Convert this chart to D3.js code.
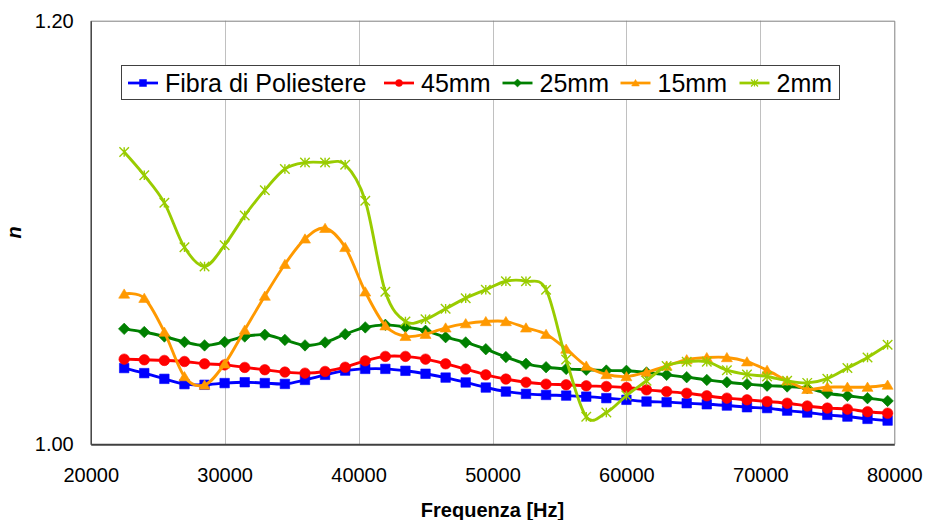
<!DOCTYPE html>
<html><head><meta charset="utf-8">
<script src="https://cdn.jsdelivr.net/npm/d3@7"></script>
<style>body{margin:0;background:#fff;}svg{display:block;font-family:"Liberation Sans",Arial,sans-serif;}</style>
</head><body><svg id="c" width="925" height="520"></svg>
<script>
const freqs = [22500,24000,25500,27000,28500,30000,31500,33000,34500,36000,37500,39000,40500,42000,43500,45000,46500,48000,49500,51000,52500,54000,55500,57000,58500,60000,61500,63000,64500,66000,67500,69000,70500,72000,73500,75000,76500,78000,79500];
const fibra = [1.0360,1.0336,1.0309,1.0284,1.0281,1.0289,1.0293,1.0289,1.0285,1.0304,1.0328,1.0348,1.0356,1.0356,1.0347,1.0333,1.0315,1.0292,1.0268,1.0249,1.0238,1.0233,1.0230,1.0225,1.0218,1.0210,1.0202,1.0199,1.0194,1.0189,1.0183,1.0175,1.0171,1.0159,1.0150,1.0139,1.0131,1.0120,1.0112];
const mm45 = [1.0402,1.0399,1.0396,1.0391,1.0380,1.0375,1.0363,1.0352,1.0341,1.0336,1.0344,1.0364,1.0394,1.0415,1.0415,1.0402,1.0380,1.0355,1.0328,1.0308,1.0293,1.0284,1.0281,1.0276,1.0273,1.0268,1.0257,1.0249,1.0241,1.0229,1.0218,1.0210,1.0202,1.0194,1.0181,1.0171,1.0166,1.0154,1.0147];
const mm25 = [1.0545,1.0530,1.0509,1.0483,1.0467,1.0483,1.0509,1.0517,1.0493,1.0467,1.0481,1.0520,1.0552,1.0564,1.0554,1.0536,1.0506,1.0481,1.0449,1.0412,1.0380,1.0364,1.0356,1.0352,1.0348,1.0347,1.0339,1.0328,1.0317,1.0304,1.0293,1.0284,1.0277,1.0273,1.0265,1.0241,1.0229,1.0218,1.0205];
const mm15 = [1.071,1.069,1.053,1.032,1.028,1.038,1.054,1.070,1.085,1.097,1.102,1.093,1.072,1.056,1.051,1.052,1.055,1.057,1.058,1.058,1.055,1.052,1.045,1.037,1.033,1.032,1.034,1.037,1.040,1.041,1.041,1.039,1.035,1.030,1.026,1.027,1.027,1.027,1.028];
const mm2 = [1.138,1.127,1.114,1.093,1.084,1.094,1.108,1.120,1.130,1.133,1.133,1.132,1.115,1.072,1.058,1.059,1.064,1.069,1.073,1.077,1.077,1.073,1.040,1.013,1.015,1.023,1.030,1.037,1.039,1.039,1.035,1.033,1.032,1.030,1.029,1.031,1.036,1.041,1.047];
const seriesNames = ["Fibra di Poliestere","45mm","25mm","15mm","2mm"];
const seriesColors = ["#0000FF","#FF0000","#008000","#FF9900","#99CC00"];
const seriesMarkers = ["square","circle","diamond","triangle","star"];
const xTicks = [20000,30000,40000,50000,60000,70000,80000];
const yTicks = [1.00,1.20];
const xTitle = "Frequenza [Hz]";
const yTitle = "n";

const seriesData = [fibra,mm45,mm25,mm15,mm2];
const svg = d3.select("#c");
const L=90.7, R=894.3, T=20.7, B=444.3;
const x = d3.scaleLinear().domain([20000,80000]).range([L,R]);
const y = d3.scaleLinear().domain([1.0,1.2]).range([B,T]);

// gridlines
svg.append("g").selectAll("line").data(xTicks.slice(1,-1)).join("line")
  .attr("x1",d=>Math.round(x(d))+0.5).attr("x2",d=>Math.round(x(d))+0.5)
  .attr("y1",T).attr("y2",B).attr("stroke","#c0c0c0").attr("stroke-width",1);
// top/right border
svg.append("path").attr("d",`M${L},${T+0.5}H${R+0.5}V${B}`).attr("fill","none").attr("stroke","#808080").attr("stroke-width",1);

// axes
const xAxis = d3.axisBottom(x).tickValues(xTicks).tickSize(0).tickPadding(24).tickFormat(d3.format("d"));
const gx = svg.append("g").attr("transform",`translate(0,${B})`).call(xAxis);
gx.select(".domain").attr("stroke","#404040").attr("stroke-width",2);
gx.selectAll("text").attr("font-size",20).attr("fill","#000").attr("font-family","Liberation Sans, Arial, sans-serif");
const yAxis = d3.axisLeft(y).tickValues(yTicks).tickSize(0).tickPadding(17).tickFormat(d3.format(".2f"));
const gy = svg.append("g").attr("transform",`translate(${L},0)`).call(yAxis);
gy.select(".domain").attr("stroke","#404040").attr("stroke-width",1.5);
gy.selectAll("text").attr("font-size",20).attr("fill","#000").attr("font-family","Liberation Sans, Arial, sans-serif");

// titles
svg.append("text").attr("x",(L+R)/2).attr("y",517).attr("text-anchor","middle")
  .attr("font-size",20).attr("font-weight","bold").text(xTitle);
svg.append("text").attr("transform",`translate(21,${(T+B)/2}) rotate(-90)`).attr("text-anchor","middle")
  .attr("font-size",20).attr("font-weight","bold").attr("font-style","italic").text(yTitle);

function markerPath(type,s){
  const h=s/2;
  switch(type){
    case "square": return `M${-h},${-h}H${h}V${h}H${-h}Z`;
    case "circle": return d3.symbol(d3.symbolCircle, Math.PI*h*h)();
    case "diamond": return `M0,${-h*1.15}L${h*1.15},0L0,${h*1.15}L${-h*1.15},0Z`;
    case "triangle": return `M0,${-h*1.0}L${h*1.1},${h*0.85}L${-h*1.1},${h*0.85}Z`;
    case "star": return `M${-h},${-h}L${h},${h}M${-h},${h}L${h},${-h}M0,${-h}V${h}`;
  }
}
const line = d3.line().x((d,i)=>x(freqs[i])).y(d=>y(d)).curve(d3.curveCardinal.tension(0));
const plot = svg.append("g");
seriesData.forEach((vals,k)=>{
  const g = plot.append("g");
  g.append("path").attr("d",line(vals)).attr("fill","none").attr("stroke",seriesColors[k]).attr("stroke-width",2.9).attr("stroke-linejoin","round");
  const mk = seriesMarkers[k];
  g.selectAll("path.m").data(vals).join("path").attr("class","m")
    .attr("transform",(d,i)=>`translate(${x(freqs[i])},${y(d)})`)
    .attr("d",markerPath(mk, mk==="star"?9.5:(mk==="square"?9.5:(mk==="circle"?10.5:10))))
    .attr("fill",mk==="star"?"none":seriesColors[k])
    .attr("stroke",seriesColors[k]).attr("stroke-width",mk==="star"?1.4:0.6);
});

// legend
const lg = svg.append("g");
lg.append("rect").attr("x",121.5).attr("y",65.5).attr("width",718).attr("height",34).attr("fill","#fff").attr("stroke","#404040").attr("stroke-width",1);
const legX = [128,384,502.5,620.5,739.5];
const legY = 83;
seriesNames.forEach((nm,k)=>{
  const g = lg.append("g");
  g.append("line").attr("x1",legX[k]).attr("x2",legX[k]+30).attr("y1",legY).attr("y2",legY).attr("stroke",seriesColors[k]).attr("stroke-width",2.75);
  const mk = seriesMarkers[k];
  g.append("path").attr("transform",`translate(${legX[k]+15},${legY})`).attr("d",markerPath(mk,7))
    .attr("fill",mk==="star"?"none":seriesColors[k]).attr("stroke",seriesColors[k]).attr("stroke-width",mk==="star"?1.2:0.5);
  g.append("text").attr("x",legX[k]+37).attr("y",legY+9).attr("font-size",25).attr("fill","#000").text(nm);
});
</script></body></html>
